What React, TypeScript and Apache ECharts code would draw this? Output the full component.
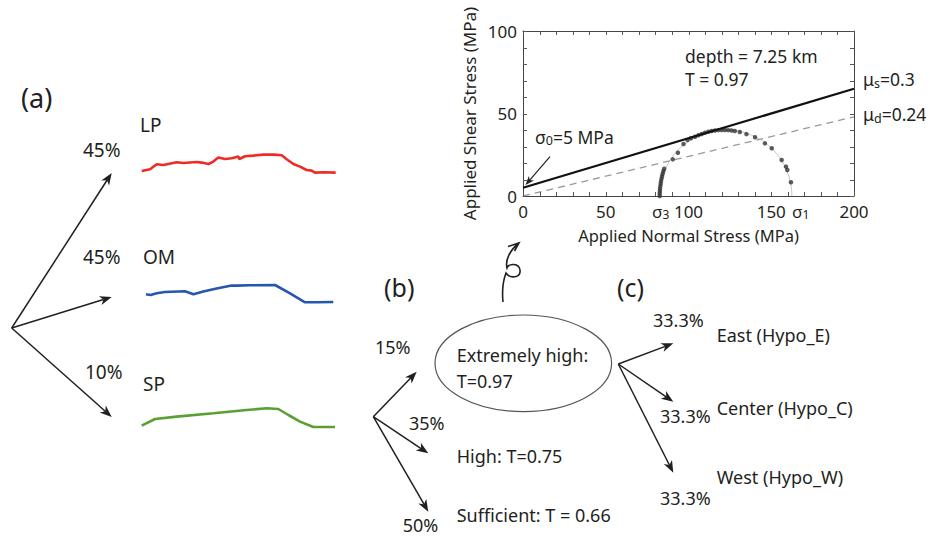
import React, { useEffect, useRef } from 'react';
import * as echarts from 'echarts';

const FONT = '"Noto Sans", "DejaVu Sans", sans-serif';
const INK = '#231f20';

// ---- Mohr diagram values ----
const X_LABEL_STEP = 50;
const Y_LABEL_STEP = 50;
const X_TICKS = [0, 10, 20, 30, 40, 50, 60, 70, 80, 90, 100, 110, 120, 130, 140, 150, 160, 170, 180, 190, 200];
const Y_TICKS = [0, 10, 20, 30, 40, 50, 60, 70, 80, 90, 100];
const SIGMA3 = 82.5;
const SIGMA1 = 162.5;
const TAU0 = 5;
const MU_S = 0.3;
const MU_D = 0.24;
const SIGMA_MAX = 200;
const TAU_MAX = 100;
const DOT_SIGMA = [82.6, 82.6, 82.7, 82.8, 83.0, 83.2, 83.4, 83.7, 84.0, 84.4, 84.8, 85.3, 90.5, 93.6, 97.0, 99.4, 101.5, 104.0, 106.0, 108.0, 110.0, 112.0, 114.0, 116.0, 118.0, 120.0, 122.0, 124.0, 126.0, 128.0, 131.0, 135.0, 140.2, 146.2, 150.3, 156.3, 158.9, 159.7, 161.9];
const DOT_TAU = [0, 1.5, 3, 4.5, 6, 7.5, 9, 10.5, 12, 13.5, 15, 16.5, 22.2, 26.2, 31.5, 33.9, 35.0, 35.9, 36.8, 37.6, 38.3, 38.9, 39.4, 39.7, 39.9, 40.0, 40.0, 39.9, 39.7, 39.4, 38.8, 37.5, 35.6, 31.9, 28.9, 21.8, 17.8, 15.8, 8.3];

// ---- (a) sparklines ----
const LP_X = [0, 4.3, 7.7, 11.2, 13.7, 18, 21.5, 28.4, 30.9, 34.4, 36.9, 39.5, 43, 46.4, 49.8, 50.3, 53.3, 57.6, 62.7, 67.9, 72.2, 74.7, 78.2, 81.6, 85, 87.6, 89.3, 93.6, 100];
const LP_Y = [2.3, 4, 9, 8.3, 9.3, 11, 10.3, 11.3, 10.7, 9.3, 11.7, 15.7, 14.3, 15, 16.7, 14.3, 17, 17.7, 18.7, 18.7, 18, 14, 9.3, 6.7, 3.3, 2.7, 0.7, 1, 0.7];
const OM_X = [0, 2.5, 5.7, 10.1, 20.8, 25.3, 30.6, 37.7, 45.7, 48.4, 55.5, 68.9, 76.9, 84.9, 91.1, 100];
const OM_Y = [9, 8.3, 10, 11.3, 12, 9, 11.7, 14.7, 17.7, 17.7, 18, 18.3, 10, 1, 1, 1.3];
const SP_X = [0, 6.9, 18.1, 37.1, 54.3, 64.7, 70.7, 75.9, 81.9, 88.8, 100];
const SP_Y = [2.7, 9.3, 11.7, 15, 18.3, 20, 19.3, 13.3, 6.7, 1.3, 1.3];

// ---- tree labels ----
const A_NAMES = ['LP', 'OM', 'SP'];
const A_PROBS = ['45%', '45%', '10%'];
const B_NAMES = ['Extremely high:', 'High: T=0.75', 'Sufficient: T = 0.66'];
const B_PROBS = ['15%', '35%', '50%'];
const C_NAMES = ['East (Hypo_E)', 'Center (Hypo_C)', 'West (Hypo_W)'];
const C_PROBS = ['33.3%', '33.3%', '33.3%'];

const SQUIGGLE_D =
  'M503,302 C502,292 503,281 506,273 C510,279 521,278 520,270 C519,263 509,263 507,268 C505,260 510,250 519,243 M508,246.5 L519,243 L514.5,251';

const TICK_LEN = 4;
const TICK_COLOR = '#555';

function arrow(x1: number, y1: number, x2: number, y2: number, L = 12, W = 4.6, lw = 1.5) {
  const dx = x2 - x1;
  const dy = y2 - y1;
  const d = Math.hypot(dx, dy);
  const ux = dx / d;
  const uy = dy / d;
  const nx = -uy;
  const ny = ux;
  const bx = x2 - ux * L;
  const by = y2 - uy * L;
  const mx = x2 - ux * L * 0.72;
  const my = y2 - uy * L * 0.72;
  return [
    { type: 'line', shape: { x1, y1, x2: mx, y2: my }, style: { stroke: INK, lineWidth: lw }, silent: true },
    {
      type: 'polygon',
      shape: { points: [[x2, y2], [bx + nx * W, by + ny * W], [mx, my], [bx - nx * W, by - ny * W]] },
      style: { fill: INK },
      silent: true,
    },
  ];
}

function txt(text: string, x: number, y: number, size: number, extra: any = {}) {
  return {
    type: 'text',
    x,
    y,
    silent: true,
    style: { text, fontSize: size, fontFamily: FONT, fill: INK, verticalAlign: 'middle', align: 'left', ...extra },
  };
}

function sub(base: string, s: string, rest: string, size: number, subSize: number, lh = size + 4) {
  return {
    text: `{b|${base}}{s|${s}}{b|${rest}}`,
    rich: {
      b: { fontSize: size, fontFamily: FONT, fill: INK, color: INK, lineHeight: lh },
      s: { fontSize: subSize, fontFamily: FONT, fill: INK, color: INK, lineHeight: subSize, verticalAlign: 'bottom' },
    },
  };
}

export default function App() {
  const ref = useRef<HTMLDivElement>(null);
  useEffect(() => {
    if (!ref.current) return;
    echarts.graphic.registerShape('squiggle', echarts.graphic.extendPath(SQUIGGLE_D, {}));
    const chart = echarts.init(ref.current, null, { renderer: 'svg' });

    const sparkGrids = [
      { left: 141.7, top: 153.3, width: 194, height: 20 },
      { left: 146, top: 283.3, width: 187.3, height: 20 },
      { left: 141.7, top: 408.3, width: 193.3, height: 20 },
    ];
    const sparkData = [
      { x: LP_X, y: LP_Y, color: '#ee2b25' },
      { x: OM_X, y: OM_Y, color: '#2456b2' },
      { x: SP_X, y: SP_Y, color: '#5b9f33' },
    ];

    const axisCommon = {
      type: 'value',
      min: 0,
      axisLine: { show: true, onZero: false, lineStyle: { color: '#444', width: 1 } },
      axisTick: { show: false },
      splitLine: { show: false },
    };
    const labelStyle = { fontSize: 17, fontFamily: FONT, color: INK };

    const xAxes: any[] = [
      {
        ...axisCommon,
        gridIndex: 0,
        max: SIGMA_MAX,
        interval: X_LABEL_STEP,
        position: 'bottom',
        name: 'Applied Normal Stress (MPa)',
        nameLocation: 'middle',
        nameGap: 31,
        nameTextStyle: { fontSize: 16.5, fontFamily: FONT, color: INK },
        axisLabel: { ...labelStyle, margin: 7 },
      },
      {
        ...axisCommon,
        gridIndex: 0,
        max: SIGMA_MAX,
        interval: X_LABEL_STEP,
        position: 'top',
        axisLabel: { show: false },
      },
    ];
    const yAxes: any[] = [
      {
        ...axisCommon,
        gridIndex: 0,
        max: TAU_MAX,
        interval: Y_LABEL_STEP,
        position: 'left',
        name: 'Applied Shear Stress (MPa)',
        nameLocation: 'middle',
        nameGap: 45,
        nameTextStyle: { fontSize: 17, fontFamily: FONT, color: INK },
        axisLabel: { ...labelStyle, margin: 6 },
      },
      {
        ...axisCommon,
        gridIndex: 0,
        max: TAU_MAX,
        interval: Y_LABEL_STEP,
        position: 'right',
        axisLabel: { show: false },
      },
    ];
    sparkGrids.forEach((_, i) => {
      xAxes.push({ type: 'value', gridIndex: i + 1, min: 0, max: 100, show: false });
      yAxes.push({ type: 'value', gridIndex: i + 1, min: 0, max: 20, show: false });
    });

    const tickLine = (x1: number, y1: number, x2: number, y2: number) => ({
      type: 'line',
      shape: { x1, y1, x2, y2 },
      style: { stroke: TICK_COLOR, lineWidth: 1 },
    });

    const series: any[] = [
      // ticks along bottom & top
      {
        type: 'custom',
        xAxisIndex: 0,
        yAxisIndex: 0,
        data: X_TICKS.map((v) => [v]),
        silent: true,
        renderItem: (params: any, api: any) => {
          const v = api.value(0);
          const b = api.coord([v, 0]);
          const t = api.coord([v, TAU_MAX]);
          const xx = Math.round(b[0]) + 0.5;
          return {
            type: 'group',
            children: [tickLine(xx, b[1], xx, b[1] - TICK_LEN), tickLine(xx, t[1], xx, t[1] + TICK_LEN)],
          };
        },
        z: 5,
      },
      // ticks along left & right
      {
        type: 'custom',
        xAxisIndex: 0,
        yAxisIndex: 0,
        data: Y_TICKS.map((v) => [0, v]),
        silent: true,
        encode: { x: 0, y: 1 },
        renderItem: (params: any, api: any) => {
          const v = api.value(1);
          const l = api.coord([0, v]);
          const r = api.coord([SIGMA_MAX, v]);
          const yy = Math.round(l[1]) + 0.5;
          return {
            type: 'group',
            children: [tickLine(l[0], yy, l[0] + TICK_LEN, yy), tickLine(r[0], yy, r[0] - TICK_LEN, yy)],
          };
        },
        z: 5,
      },
      {
        type: 'line',
        xAxisIndex: 0,
        yAxisIndex: 0,
        data: [[0, 0], [SIGMA_MAX, MU_D * SIGMA_MAX]],
        symbol: 'none',
        lineStyle: { color: '#9a9a9a', width: 1.3, type: [7, 5] },
        z: 2,
      },
      {
        type: 'custom',
        xAxisIndex: 0,
        yAxisIndex: 0,
        data: [[SIGMA3, SIGMA1]],
        renderItem: (params: any, api: any) => {
          const s3 = api.value(0);
          const s1 = api.value(1);
          const c = api.coord([(s3 + s1) / 2, 0]);
          const r = api.size([(s1 - s3) / 2, 0])[0];
          return {
            type: 'arc',
            shape: { cx: c[0], cy: c[1], r, startAngle: Math.PI, endAngle: Math.PI * 2 },
            style: { stroke: '#c8c8c8', lineWidth: 1, fill: 'none' },
          };
        },
        z: 1,
      },
      {
        type: 'scatter',
        xAxisIndex: 0,
        yAxisIndex: 0,
        data: DOT_SIGMA.map((s, i) => [s, DOT_TAU[i]]),
        symbolSize: 4.5,
        itemStyle: { color: '#333' },
        z: 3,
      },
      {
        type: 'line',
        xAxisIndex: 0,
        yAxisIndex: 0,
        data: [[0, TAU0], [SIGMA_MAX, TAU0 + MU_S * SIGMA_MAX]],
        symbol: 'none',
        lineStyle: { color: '#111', width: 2.2 },
        z: 4,
      },
    ];
    sparkData.forEach((s, i) => {
      series.push({
        type: 'line',
        xAxisIndex: i + 2,
        yAxisIndex: i + 2,
        data: s.x.map((x, j) => [x, s.y[j]]),
        symbol: 'none',
        lineStyle: { color: s.color, width: 2.6 },
        clip: false,
      });
    });

    const g: any[] = [];
    // panel labels
    g.push(txt('(a)', 21, 97, 27));
    g.push(txt('(b)', 384, 287, 25));
    g.push(txt('(c)', 617, 287, 25));

    // (a) tree
    const aOrigin = [11.7, 328];
    const aTips = [[111.7, 173], [111.7, 297], [111.7, 417]];
    aTips.forEach((t) => g.push(...arrow(aOrigin[0], aOrigin[1], t[0], t[1])));
    const aProbPos = [[83, 149.5], [83, 257], [85, 372]];
    const aNamePos = [[140, 125], [143, 257], [143, 383.5]];
    A_PROBS.forEach((p, i) => g.push(txt(p, aProbPos[i][0], aProbPos[i][1], 19)));
    A_NAMES.forEach((n, i) => g.push(txt(n, aNamePos[i][0], aNamePos[i][1], 19)));

    // (b) tree
    const bOrigin = [373.3, 416.7];
    const bTips = [[416.7, 371.7], [428.3, 453.3], [428.3, 511.7]];
    bTips.forEach((t) => g.push(...arrow(bOrigin[0], bOrigin[1], t[0], t[1])));
    g.push({
      type: 'ellipse',
      shape: { cx: 523.3, cy: 363.3, rx: 88.3, ry: 48.3 },
      style: { fill: 'none', stroke: '#555', lineWidth: 1.2 },
      silent: true,
    });
    const bProbPos = [[375, 346.7], [409, 423.3], [402.7, 525]];
    B_PROBS.forEach((p, i) => g.push(txt(p, bProbPos[i][0], bProbPos[i][1], 18)));
    g.push(txt(B_NAMES[0] + '\nT=0.97', 456.7, 367.6, 18, { lineHeight: 26 }));
    g.push(txt(B_NAMES[1], 456.7, 456, 18));
    g.push(txt(B_NAMES[2], 456.7, 515, 18));

    // (c) tree
    const cOrigin = [618.3, 364];
    const cTips = [[673.3, 343.3], [673.3, 401.7], [673.3, 472.7]];
    cTips.forEach((t) => g.push(...arrow(cOrigin[0], cOrigin[1], t[0], t[1])));
    const cProbPos = [[653, 320], [660, 416.3], [660, 498.3]];
    const cNamePos = [[716.7, 334.5], [716.7, 407.5], [716.7, 476.7]];
    C_PROBS.forEach((p, i) => g.push(txt(p, cProbPos[i][0], cProbPos[i][1], 18)));
    C_NAMES.forEach((n, i) => g.push(txt(n, cNamePos[i][0], cNamePos[i][1], 18)));

    // hand drawn arrow
    g.push({ type: 'squiggle', x: 0, y: 0, silent: true, style: { fill: 'none', stroke: INK, lineWidth: 1.6 } });

    // Mohr annotations
    g.push(txt('depth = 7.25 km\nT = 0.97', 685, 67, 17.5, { lineHeight: 23 }));
    g.push({ type: 'text', x: 863, y: 79, silent: true, style: { ...sub('μ', 's', '=0.3', 17.5, 12.5), verticalAlign: 'middle' } });
    g.push({ type: 'text', x: 863, y: 114, silent: true, style: { ...sub('μ', 'd', '=0.24', 17.5, 12.5), verticalAlign: 'middle' } });
    g.push({ type: 'text', x: 535, y: 136.7, silent: true, style: { ...sub('σ', '0', '=5 MPa', 17.5, 12.5), verticalAlign: 'middle' } });
    g.push({ type: 'text', x: 652, y: 211, silent: true, style: { ...sub('σ', '3', '', 17, 12, 19), verticalAlign: 'middle' } });
    g.push({ type: 'text', x: 792, y: 211, silent: true, style: { ...sub('σ', '1', '', 17, 12, 19), verticalAlign: 'middle' } });
    g.push(...arrow(550, 156.7, 525.5, 185, 9, 3.4, 1.2));

    chart.setOption({
      animation: false,
      backgroundColor: '#fff',
      grid: [{ left: 523, top: 31, width: 331, height: 165 }, ...sparkGrids],
      xAxis: xAxes,
      yAxis: yAxes,
      series,
      graphic: { elements: g },
    });
    return () => chart.dispose();
  }, []);
  return <div ref={ref} style={{ position: 'fixed', left: 0, top: 0, width: 930, height: 536 }} />;
}
